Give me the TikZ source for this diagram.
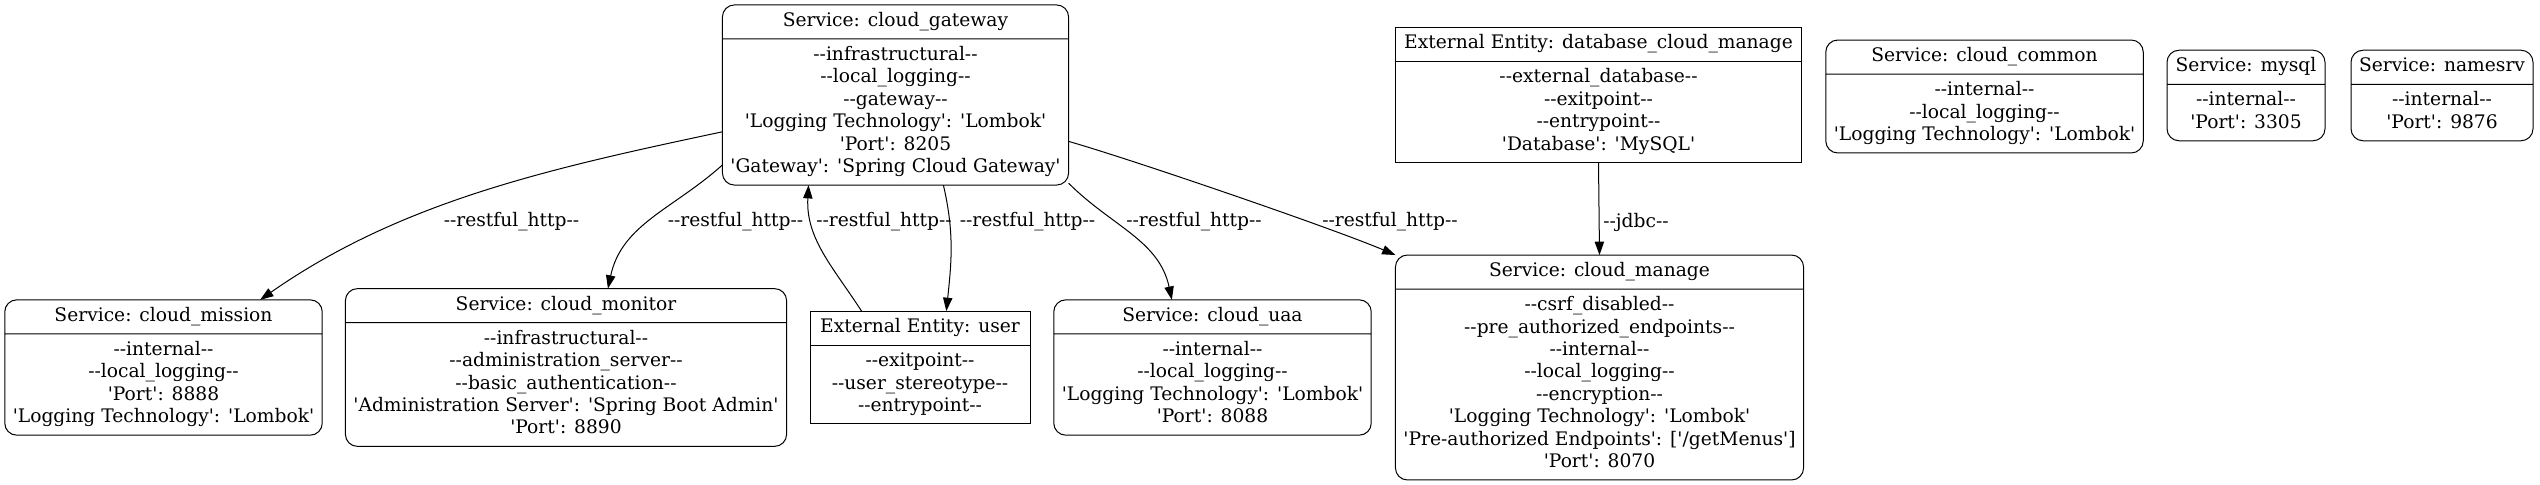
\documentclass[tikz,border=0pt]{standalone}
\usepackage{fontspec}
\setmainfont{DejaVu Serif}[Ligatures=TeXOff]
\usepackage{tikz}
\usetikzlibrary{arrows.meta,shapes.multipart}

\begin{document}
\begin{tikzpicture}[x=0.75pt, y=0.75pt,
  record/.style={draw, line width=0.75pt, rectangle split, rectangle split parts=2, align=center, font=\fontsize{14pt}{16.8pt}\selectfont, inner xsep=6pt, inner ysep=4pt, outer sep=0pt},
  service/.style={record, rounded corners=9pt},
  entity/.style={record},
  flow/.style={-{Triangle[length=10pt,width=7pt]}, line width=0.75pt},
  flowlabel/.style={font=\fontsize{14pt}{16.8pt}\selectfont, inner sep=0pt}]
\useasboundingbox (0,0) rectangle (2540,-485);
% top row
\node[service, minimum width=259pt] (gateway) at (895.5,-95) {\strut Service: cloud\_gateway\nodepart{two}\strut --infrastructural--\\--local\_logging--\\--gateway--\\'Logging Technology': 'Lombok'\\'Port': 8205\\'Gateway': 'Spring Cloud Gateway'\strut};
\node[entity, minimum width=304pt] (database) at (1598.5,-95) {\strut External Entity: database\_cloud\_manage\nodepart{two}\strut --external\_database--\\--exitpoint--\\--entrypoint--\\'Database': 'MySQL'\strut};
\node[service, minimum width=238pt] (common) at (1984.5,-96.5) {\strut Service: cloud\_common\nodepart{two}\strut --internal--\\--local\_logging--\\'Logging Technology': 'Lombok'\strut};
\node[service, minimum width=118.5pt] (mysql) at (2246,-95.5) {\strut Service: mysql\nodepart{two}\strut --internal--\\'Port': 3305\strut};
\node[service, minimum width=136.5pt] (namesrv) at (2442,-95.5) {\strut Service: namesrv\nodepart{two}\strut --internal--\\'Port': 9876\strut};
% bottom row
\node[service, minimum width=238pt] (mission) at (163.5,-367.5) {\strut Service: cloud\_mission\nodepart{two}\strut --internal--\\--local\_logging--\\'Port': 8888\\'Logging Technology': 'Lombok'\strut};
\node[service, minimum width=327pt] (monitor) at (566,-367.5) {\strut Service: cloud\_monitor\nodepart{two}\strut --infrastructural--\\--administration\_server--\\--basic\_authentication--\\'Administration Server': 'Spring Boot Admin'\\'Port': 8890\strut};
\node[entity, minimum width=165pt] (user) at (920,-367.5) {\strut External Entity: user\nodepart{two}\strut --exitpoint--\\--user\_stereotype--\\--entrypoint--\strut};
\node[service, minimum width=238pt] (uaa) at (1212.5,-367.5) {\strut Service: cloud\_uaa\nodepart{two}\strut --internal--\\--local\_logging--\\'Logging Technology': 'Lombok'\\'Port': 8088\strut};
\node[service, minimum width=305pt] (manage) at (1599.5,-367.5) {\strut Service: cloud\_manage\nodepart{two}\strut --csrf\_disabled--\\--pre\_authorized\_endpoints--\\--internal--\\--local\_logging--\\--encryption--\\'Logging Technology': 'Lombok'\\'Pre-authorized Endpoints': ['/getMenus']\\'Port': 8070\strut};
% flows
\draw[flow] (gateway.192) to[out=192, in=35, looseness=0.9] (mission.35);
\draw[flow] (gateway.202) to[out=222, in=78] (monitor.62);
\draw[flow] (user.136) to[out=123, in=267] (gateway.226);
\draw[flow] (gateway.298) to[out=-77, in=84] (user.65);
\draw[flow] (gateway.333) to[out=-45, in=102] (uaa.121);
\draw[flow] (gateway.345) to[out=-16, in=157, looseness=0.5] (manage.north west);
\draw[flow] (database.south) -- (manage.north);
% labels
\node[flowlabel] (l1) at (511.5,-222) {--restful\_http--};
\node[flowlabel] (l2) at (735.5,-222) {--restful\_http--};
\node[flowlabel] (l3) at (884,-222) {--restful\_http--};
\node[flowlabel] (l4) at (1027.5,-222) {--restful\_http--};
\node[flowlabel] (l5) at (1194,-222) {--restful\_http--};
\node[flowlabel] (l6) at (1390,-222) {--restful\_http--};
\node[flowlabel] (l7) at (1636,-222) {--jdbc--};
\end{tikzpicture}
\end{document}
